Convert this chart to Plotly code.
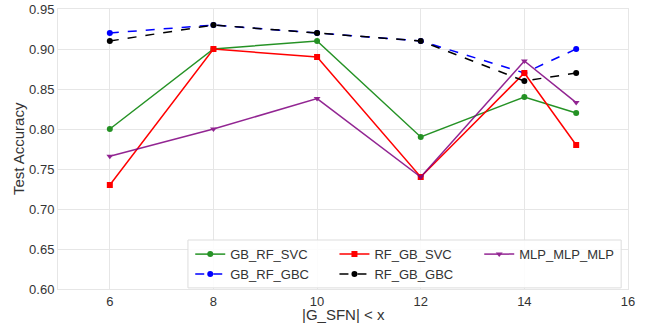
import plotly.graph_objects as go

x_vals = [6, 8, 10, 12, 14, 15]
gb_rf_svc = [0.80, 0.90, 0.91, 0.79, 0.84, 0.82]
rf_gb_svc = [0.73, 0.90, 0.89, 0.74, 0.87, 0.78]
mlp_mlp_mlp = [0.766, 0.80, 0.838, 0.74, 0.885, 0.833]
gb_rf_gbc = [0.92, 0.93, 0.92, 0.91, 0.87, 0.90]
rf_gb_gbc = [0.91, 0.93, 0.92, 0.91, 0.86, 0.87]

x_ticks = [6, 8, 10, 12, 14, 16]
y_ticks = [0.60, 0.65, 0.70, 0.75, 0.80, 0.85, 0.90, 0.95]

# name, values, colour, dash, marker, legend column
series = [
    ("GB_RF_SVC", gb_rf_svc, "green", "solid", "circle", "legend"),
    ("GB_RF_GBC", gb_rf_gbc, "blue", "dash", "circle", "legend"),
    ("RF_GB_SVC", rf_gb_svc, "red", "solid", "square", "legend2"),
    ("RF_GB_GBC", rf_gb_gbc, "black", "dash", "circle", "legend2"),
    ("MLP_MLP_MLP", mlp_mlp_mlp, "purple", "solid", "triangle-down", "legend3"),
]

fig = go.Figure()
for name, vals, color, dash, sym, leg in series:
    fig.add_trace(go.Scatter(
        x=x_vals, y=vals, name=name, mode="lines+markers",
        line=dict(color=color, width=1.5, dash=dash),
        marker=dict(color=color, size=6, symbol=sym),
        opacity=0.85 if color in ("green", "purple") else 1.0,
        legend=leg,
    ))

axis_common = dict(
    showgrid=True, gridcolor="#e6e6e6", gridwidth=1,
    showline=True, linecolor="#e6e6e6", linewidth=1, mirror=True,
    zeroline=False, ticks="", ticklen=0, tickfont=dict(size=13, color="#333333"),
    automargin=False,
)

leg_common = dict(
    orientation="v", yanchor="top", xanchor="left", y=0.178,
    bgcolor="rgba(0,0,0,0)", borderwidth=0,
    font=dict(size=13, color="#333333"), tracegroupgap=0,
)

fig.update_layout(
    width=653, height=325,
    margin=dict(l=58, r=25, t=9, b=36),
    paper_bgcolor="white", plot_bgcolor="white",
    font=dict(family="Liberation Sans, Arial, sans-serif", color="#333333"),
    xaxis=dict(range=[5, 16], tickvals=x_ticks, **axis_common),
    yaxis=dict(range=[0.6, 0.95], tickvals=y_ticks, tickformat=".2f", **axis_common),
    legend=dict(x=0.232, **leg_common),
    legend2=dict(x=0.485, **leg_common),
    legend3=dict(x=0.739, **leg_common),
    shapes=[dict(
        type="rect", xref="paper", yref="paper",
        x0=0.228, x1=0.988, y0=0.004, y1=0.175,
        fillcolor="rgba(255,255,255,0.85)", line=dict(color="#dddddd", width=1),
        layer="above",
    )],
    annotations=[
        dict(text="|G_SFN| < x", xref="paper", yref="paper", x=0.5, y=-0.092,
             xanchor="center", yanchor="middle", showarrow=False,
             font=dict(size=15, color="#333333")),
        dict(text="Test Accuracy", xref="paper", yref="paper", x=-0.07, y=0.5,
             xanchor="center", yanchor="middle", showarrow=False, textangle=-90,
             font=dict(size=15, color="#333333")),
    ],
)

fig.write_html("out.html", config={"displayModeBar": False},
               post_script="document.body.style.margin='0';document.body.style.overflow='hidden';")
